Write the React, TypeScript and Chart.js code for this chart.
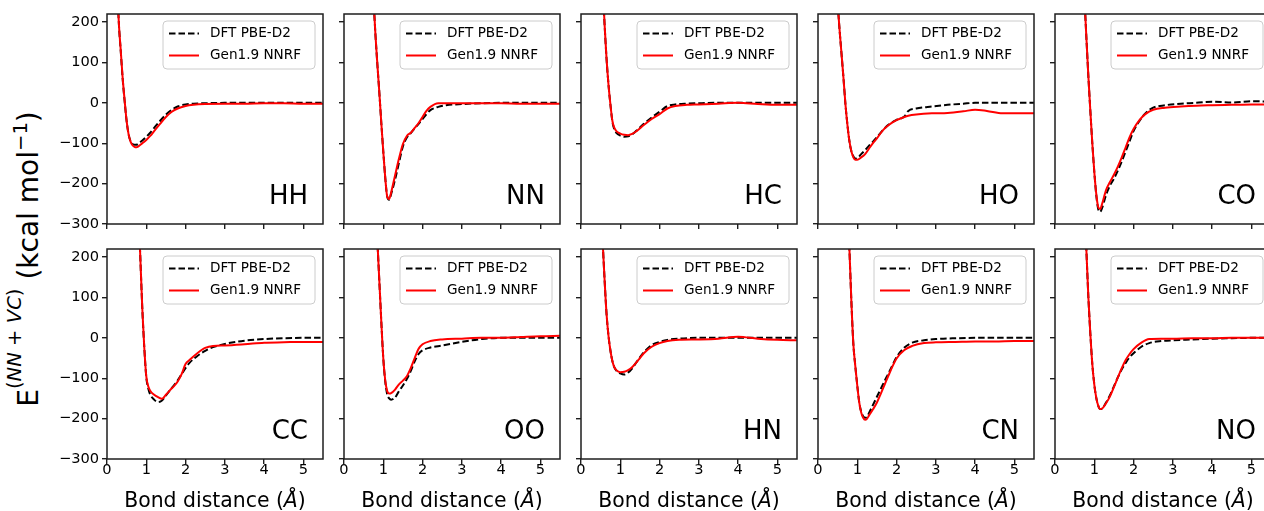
import React, { useEffect, useRef } from "react";
import { Chart, registerables } from "chart.js";

Chart.register(...registerables);
Chart.defaults.font.family = "'DejaVu Sans', sans-serif";

// ---------- data ----------
const X_TICKS = [0, 1, 2, 3, 4, 5];
const Y_TICKS = [-300, -200, -100, 0, 100, 200];
const X_MIN = 0;
const X_MAX = 5.5;
const Y_MIN = -300;
const Y_MAX = 220;
const SERIES_LABELS = ["DFT PBE-D2", "Gen1.9 NNRF"];
const X_TITLE = "Bond distance";

const HH_X = [0.25, 0.3, 0.35, 0.4, 0.45, 0.5, 0.55, 0.6, 0.65, 0.7, 0.75, 0.8, 0.9, 1.0, 1.1, 1.2, 1.35, 1.5, 1.65, 1.8, 2.0, 2.2, 2.5, 3.0, 3.5, 4.0, 4.5, 5.0, 5.5];
const HH_DFT = [320, 200, 128, 58, 3, -45, -78, -95, -102, -104, -104, -101, -93, -84, -74, -62, -45, -29, -17, -9, -4, -2, -1, 0, 0, 0, 0, 0, 0];
const HH_NNRF = [320, 200, 130, 60, 5, -45, -78, -96, -105, -109, -110, -108, -100, -92, -82, -70, -52, -35, -22, -14, -8, -5, -3, -2, -2, -1, -1, -2, -2];

const NN_X = [0.7, 0.75, 0.8, 0.85, 0.9, 0.95, 1.0, 1.05, 1.1, 1.15, 1.2, 1.3, 1.4, 1.5, 1.6, 1.7, 1.8, 1.9, 2.0, 2.1, 2.2, 2.4, 2.6, 3.0, 3.5, 4.0, 4.5, 5.0, 5.5];
const NN_DFT = [360, 260, 170, 95, 25, -50, -120, -185, -232, -240, -226, -190, -148, -108, -86, -75, -63, -52, -40, -28, -18, -10, -6, -3, -1, 0, 0, 0, 0];
const NN_NNRF = [360, 260, 170, 95, 25, -50, -120, -185, -232, -238, -222, -180, -138, -102, -82, -74, -62, -50, -35, -20, -10, -1, -1, -1, -1, -1, -2, -2, -2];

const HC_X = [0.5, 0.55, 0.6, 0.65, 0.7, 0.75, 0.8, 0.85, 0.9, 1.0, 1.1, 1.2, 1.3, 1.4, 1.6, 1.8, 2.0, 2.2, 2.4, 2.7, 3.0, 3.5, 4.0, 4.5, 5.0, 5.5];
const HC_DFT = [420, 300, 195, 110, 45, -5, -47, -66, -74, -81, -84, -83, -78, -70, -52, -36, -22, -8, -4, -2, -1, 0, 0, 0, 0, 0];
const HC_NNRF = [420, 300, 195, 110, 45, -5, -45, -62, -70, -76, -79, -80, -77, -71, -55, -40, -28, -14, -8, -5, -4, -2, 0, -3, -5, -5];

const HO_X = [0.45, 0.5, 0.55, 0.6, 0.65, 0.7, 0.75, 0.8, 0.85, 0.9, 0.95, 1.0, 1.1, 1.2, 1.3, 1.4, 1.5, 1.65, 1.8, 2.0, 2.2, 2.3, 2.5, 2.9, 3.3, 3.7, 4.0, 4.3, 4.7, 5.0, 5.5];
const HO_DFT = [340, 250, 180, 120, 60, -5, -55, -95, -120, -132, -138, -137, -127, -117, -106, -96, -85, -68, -54, -42, -34, -20, -14, -9, -5, -2, 0, 0, 0, 0, 0];
const HO_NNRF = [340, 250, 180, 120, 60, -5, -55, -95, -120, -135, -141, -141, -135, -127, -113, -100, -88, -68, -55, -43, -35, -32, -29, -26, -25, -21, -17, -20, -26, -26, -26];

const CO_X = [0.7, 0.75, 0.8, 0.85, 0.9, 0.95, 1.0, 1.05, 1.1, 1.15, 1.2, 1.3, 1.4, 1.5, 1.6, 1.7, 1.8, 1.9, 2.0, 2.15, 2.3, 2.5, 2.8, 3.2, 3.6, 4.0, 4.5, 5.0, 5.5];
const CO_DFT = [360, 260, 160, 65, -20, -100, -170, -228, -263, -270, -260, -228, -205, -188, -168, -145, -120, -95, -70, -45, -26, -12, -6, -2, 0, 3, 1, 4, 3];
const CO_NNRF = [360, 260, 160, 65, -20, -100, -170, -225, -258, -263, -250, -216, -196, -178, -158, -135, -110, -85, -65, -43, -28, -17, -12, -9, -7, -6, -5, -4, -4];

const CC_X = [0.75, 0.8, 0.85, 0.9, 0.95, 1.0, 1.05, 1.1, 1.2, 1.3, 1.4, 1.5, 1.6, 1.7, 1.8, 1.9, 2.0, 2.1, 2.3, 2.5, 2.7, 3.0, 3.5, 4.0, 4.5, 5.0, 5.5];
const CC_DFT = [440, 320, 195, 70, -25, -97, -125, -140, -153, -159, -155, -143, -130, -118, -105, -90, -75, -62, -45, -32, -23, -15, -7, -3, -1, 0, 0];
const CC_NNRF = [440, 320, 195, 70, -25, -95, -120, -131, -141, -147, -151, -141, -130, -120, -108, -90, -65, -55, -38, -25, -20, -19, -16, -12, -11, -10, -10];

const OO_X = [0.75, 0.8, 0.85, 0.9, 0.95, 1.0, 1.05, 1.1, 1.15, 1.2, 1.3, 1.4, 1.5, 1.6, 1.7, 1.8, 1.9, 2.0, 2.2, 2.5, 3.0, 3.5, 4.0, 4.5, 5.0, 5.5];
const OO_DFT = [440, 340, 240, 140, 40, -50, -108, -140, -150, -153, -148, -132, -118, -102, -82, -58, -40, -31, -24, -19, -10, -3, 0, 0, 0, 0];
const OO_NNRF = [440, 340, 240, 140, 40, -50, -105, -132, -138, -137, -128, -115, -106, -95, -75, -50, -27, -16, -8, -4, -2, 0, 0, 2, 4, 5];

const HN_X = [0.5, 0.55, 0.6, 0.65, 0.7, 0.75, 0.8, 0.85, 0.9, 1.0, 1.1, 1.2, 1.3, 1.4, 1.5, 1.6, 1.8, 2.0, 2.2, 2.5, 3.0, 3.5, 4.0, 4.5, 5.0, 5.5];
const HN_DFT = [330, 240, 145, 60, 5, -32, -58, -73, -81, -88, -91, -86, -76, -62, -48, -36, -18, -10, -5, -2, 0, 0, 0, 0, 0, 0];
const HN_NNRF = [330, 240, 145, 60, 5, -32, -58, -73, -80, -85, -84, -80, -73, -62, -50, -38, -22, -13, -8, -5, -4, -2, 3, -2, -5, -6];

const CN_X = [0.72, 0.76, 0.8, 0.85, 0.9, 0.95, 1.0, 1.05, 1.1, 1.15, 1.2, 1.25, 1.3, 1.4, 1.5, 1.6, 1.7, 1.8, 1.9, 2.0, 2.2, 2.4, 2.7, 3.0, 3.5, 4.0, 4.5, 5.0, 5.5];
const CN_DFT = [420, 320, 220, 90, -15, -70, -118, -160, -183, -194, -198, -196, -186, -166, -146, -126, -106, -87, -67, -48, -24, -12, -6, -3, -1, 0, 0, 0, 0];
const CN_NNRF = [420, 320, 220, 90, -15, -70, -118, -160, -185, -198, -203, -200, -192, -177, -160, -138, -115, -92, -70, -51, -30, -20, -13, -11, -10, -9, -9, -8, -8];

const NO_X = [0.72, 0.76, 0.8, 0.85, 0.9, 0.95, 1.0, 1.05, 1.1, 1.15, 1.2, 1.3, 1.4, 1.5, 1.6, 1.7, 1.8, 1.9, 2.0, 2.2, 2.4, 2.7, 3.0, 3.5, 4.0, 4.5, 5.0, 5.5];
const NO_DFT = [420, 310, 215, 100, 10, -65, -115, -148, -168, -176, -175, -160, -142, -120, -98, -78, -62, -48, -38, -22, -13, -8, -6, -4, -2, -1, 0, 0];
const NO_NNRF = [420, 310, 215, 100, 10, -65, -115, -148, -168, -176, -175, -162, -145, -122, -98, -75, -55, -40, -28, -12, -3, -2, -2, -1, -1, 0, 0, 0];

const PANELS = [
  { label: "HH", x: HH_X, dft: HH_DFT, nnrf: HH_NNRF },
  { label: "NN", x: NN_X, dft: NN_DFT, nnrf: NN_NNRF },
  { label: "HC", x: HC_X, dft: HC_DFT, nnrf: HC_NNRF },
  { label: "HO", x: HO_X, dft: HO_DFT, nnrf: HO_NNRF },
  { label: "CO", x: CO_X, dft: CO_DFT, nnrf: CO_NNRF },
  { label: "CC", x: CC_X, dft: CC_DFT, nnrf: CC_NNRF },
  { label: "OO", x: OO_X, dft: OO_DFT, nnrf: OO_NNRF },
  { label: "HN", x: HN_X, dft: HN_DFT, nnrf: HN_NNRF },
  { label: "CN", x: CN_X, dft: CN_DFT, nnrf: CN_NNRF },
  { label: "NO", x: NO_X, dft: NO_DFT, nnrf: NO_NNRF },
];

// ---------- layout ----------
const PLOT_LEFTS = [107, 344, 581, 818, 1055];
const PLOT_TOPS = [14, 249];
const PLOT_W = 216;
const PLOT_H = 210;
const PAD_L = 60;
const PAD_T = 14;
const PAD_R = 14;
const PAD_B = 40;
const CANVAS_W = PAD_L + PLOT_W + PAD_R;
const CANVAS_H = PAD_T + PLOT_H + PAD_B;
const AXIS_COLOR = "#1e1e1e";
const TICK_FONT = 14.6;

const fmt = (v: number) => (v < 0 ? "\u2212" + Math.abs(v) : String(v));

const decoPlugin = {
  id: "panelDeco",
  afterDatasetsDraw(chart: any, _args: any, opts: any) {
    const { ctx, chartArea: a } = chart;
    ctx.save();
    // frame (spines)
    ctx.strokeStyle = AXIS_COLOR;
    ctx.lineWidth = 1.5;
    ctx.strokeRect(a.left, a.top, a.right - a.left, a.bottom - a.top);
    // legend
    const bw = 152;
    const bh = 48;
    const bx = a.right - 8 - bw;
    const by = a.top + 7;
    ctx.beginPath();
    if (typeof ctx.roundRect === "function") ctx.roundRect(bx, by, bw, bh, 4);
    else ctx.rect(bx, by, bw, bh);
    ctx.fillStyle = "rgba(255,255,255,0.8)";
    ctx.fill();
    ctx.strokeStyle = "#cccccc";
    ctx.lineWidth = 1;
    ctx.stroke();
    chart.data.datasets.forEach((ds: any, i: number) => {
      const y = by + 12.5 + i * 22;
      ctx.beginPath();
      ctx.setLineDash(ds.borderDash || []);
      ctx.strokeStyle = ds.borderColor;
      ctx.lineWidth = ds.borderWidth;
      ctx.moveTo(bx + 6, y);
      ctx.lineTo(bx + 36, y);
      ctx.stroke();
      ctx.setLineDash([]);
      ctx.fillStyle = "#000";
      ctx.font = "13.6px 'DejaVu Sans', sans-serif";
      ctx.textAlign = "left";
      ctx.textBaseline = "middle";
      ctx.fillText(ds.label, bx + 47, y);
    });
    // panel label
    ctx.fillStyle = "#000";
    ctx.font = "26px 'DejaVu Sans', sans-serif";
    ctx.textAlign = "right";
    ctx.textBaseline = "alphabetic";
    ctx.fillText(opts.text, a.right - 15, a.bottom - 20);
    ctx.restore();
  },
};

function Panel({ panel, col, row }: { panel: any; col: number; row: number }) {
  const ref = useRef<HTMLCanvasElement | null>(null);
  useEffect(() => {
    if (!ref.current) return;
    const chart = new Chart(ref.current, {
      type: "line",
      data: {
        datasets: [
          {
            label: SERIES_LABELS[0],
            data: panel.x.map((x: number, i: number) => ({ x, y: panel.dft[i] })),
            borderColor: "#000000",
            borderWidth: 2,
            borderDash: [6.5, 3],
            pointRadius: 0,
            fill: false,
            cubicInterpolationMode: "monotone",
            order: 2,
          },
          {
            label: SERIES_LABELS[1],
            data: panel.x.map((x: number, i: number) => ({ x, y: panel.nnrf[i] })),
            borderColor: "#ff0000",
            borderWidth: 2,
            pointRadius: 0,
            fill: false,
            cubicInterpolationMode: "monotone",
            order: 1,
          },
        ],
      },
      options: {
        responsive: false,
        animation: false,
        devicePixelRatio: 1,
        events: [],
        layout: { padding: { top: PAD_T, right: PAD_R, left: 0, bottom: 0 } },
        plugins: {
          legend: { display: false },
          tooltip: { enabled: false },
          panelDeco: { text: panel.label },
        } as any,
        scales: {
          x: {
            type: "linear",
            min: X_MIN,
            max: X_MAX,
            afterBuildTicks: (s: any) => {
              s.ticks = X_TICKS.map((v) => ({ value: v }));
            },
            afterFit: (s: any) => {
              s.height = PAD_B;
            },
            grid: {
              display: true,
              drawOnChartArea: false,
              drawTicks: true,
              tickLength: 5,
              tickColor: AXIS_COLOR,
              tickWidth: 1.4,
              lineWidth: 1.4,
              color: AXIS_COLOR,
            },
            border: { display: false },
            ticks: {
              display: row === 1,
              padding: -3,
              maxRotation: 0,
              autoSkip: false,
              color: "#000",
              font: { size: TICK_FONT },
              callback: (v: any) => fmt(Number(v)),
            },
          },
          y: {
            type: "linear",
            min: Y_MIN,
            max: Y_MAX,
            afterBuildTicks: (s: any) => {
              s.ticks = Y_TICKS.map((v) => ({ value: v }));
            },
            afterFit: (s: any) => {
              s.width = PAD_L;
            },
            grid: {
              display: true,
              drawOnChartArea: false,
              drawTicks: true,
              tickLength: 5,
              tickColor: AXIS_COLOR,
              tickWidth: 1.4,
              lineWidth: 1.4,
              color: AXIS_COLOR,
            },
            border: { display: false },
            ticks: {
              display: col === 0,
              padding: 3,
              autoSkip: false,
              color: "#000",
              font: { size: TICK_FONT },
              callback: (v: any) => fmt(Number(v)),
            },
          },
        },
      },
      plugins: [decoPlugin],
    } as any);
    return () => chart.destroy();
  }, [panel, col, row]);

  const left = PLOT_LEFTS[col] - PAD_L;
  const top = PLOT_TOPS[row] - PAD_T;
  return (
    <canvas
      ref={ref}
      width={CANVAS_W}
      height={CANVAS_H}
      style={{ position: "absolute", left, top, width: CANVAS_W, height: CANVAS_H }}
    />
  );
}

export default function App() {
  return (
    <div
      style={{
        position: "absolute",
        left: 0,
        top: 0,
        width: 1264,
        height: 511,
        overflow: "hidden",
        background: "#fff",
        fontFamily: "'DejaVu Sans', sans-serif",
        color: "#000",
      }}
    >
      {PANELS.map((p, i) => (
        <Panel key={p.label} panel={p} col={i % 5} row={Math.floor(i / 5)} />
      ))}
      {PLOT_LEFTS.map((l, i) => (
        <div
          key={"xt" + i}
          style={{
            position: "absolute",
            left: l + PLOT_W / 2,
            top: 490,
            transform: "translateX(-50%)",
            fontSize: 20.4,
            lineHeight: "20px",
            whiteSpace: "nowrap",
          }}
        >
          {X_TITLE} (<i>Å</i>)
        </div>
      ))}
      <div
        style={{
          position: "absolute",
          left: 30,
          top: 259,
          transform: "translate(-50%, -50%) rotate(-90deg)",
          fontSize: 28,
          lineHeight: "28px",
          whiteSpace: "nowrap",
        }}
      >
        E
        <span style={{ fontSize: "0.7em", position: "relative", top: -17 }}>
          (<i>NN</i> + <i>VC</i>)
        </span>{" "}
        (kcal mol
        <span style={{ fontSize: "0.7em", position: "relative", top: -11 }}>−1</span>)
      </div>
    </div>
  );
}
